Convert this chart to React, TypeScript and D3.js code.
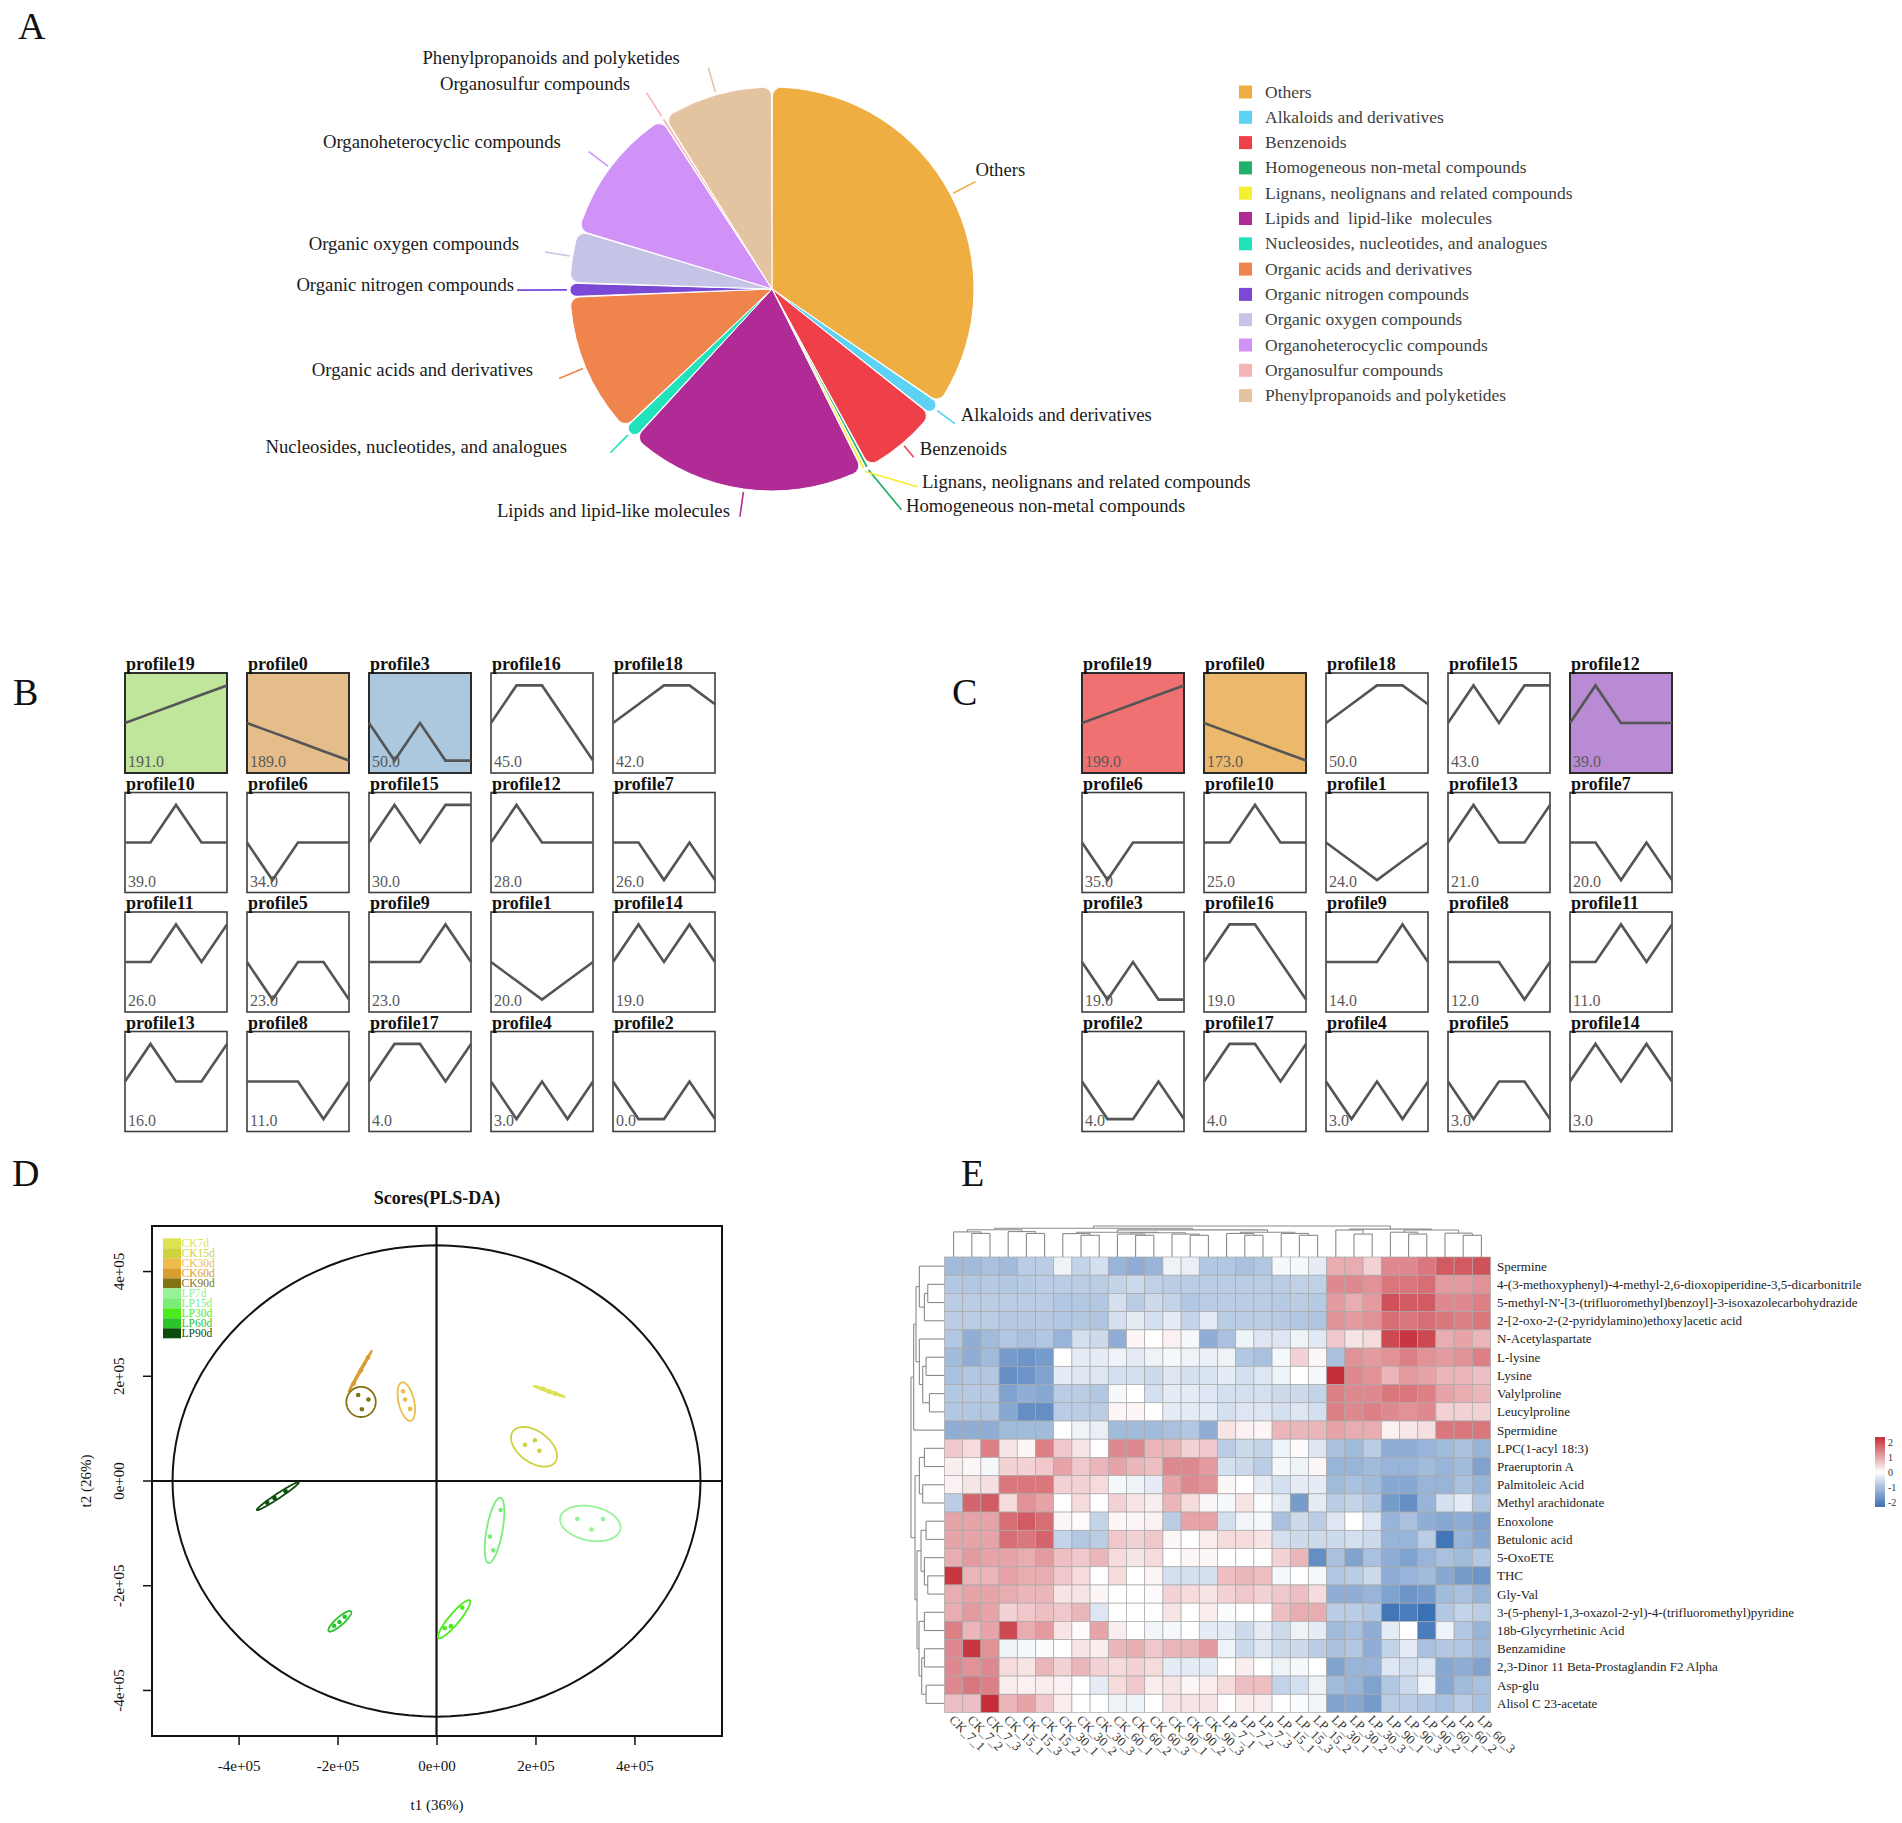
import { useEffect, useRef } from "react";
import * as d3 from "d3";

const W = 1902;
const H = 1823;
const SERIF = "'Liberation Serif', 'Times New Roman', Times, serif";

// ---------- A: compound classes ----------
const classNames = [
  "Others",
  "Alkaloids and derivatives",
  "Benzenoids",
  "Homogeneous non-metal compounds",
  "Lignans, neolignans and related compounds",
  "Lipids and lipid-like molecules",
  "Nucleosides, nucleotides, and analogues",
  "Organic acids and derivatives",
  "Organic nitrogen compounds",
  "Organic oxygen compounds",
  "Organoheterocyclic compounds",
  "Organosulfur compounds",
  "Phenylpropanoids and polyketides",
];
const legendNames = [
  "Others",
  "Alkaloids and derivatives",
  "Benzenoids",
  "Homogeneous non-metal compounds",
  "Lignans, neolignans and related compounds",
  "Lipids and  lipid-like  molecules",
  "Nucleosides, nucleotides, and analogues",
  "Organic acids and derivatives",
  "Organic nitrogen compounds",
  "Organic oxygen compounds",
  "Organoheterocyclic compounds",
  "Organosulfur compounds",
  "Phenylpropanoids and polyketides",
];
const classCounts = [124, 4, 23, 1, 1, 69, 4, 41, 4, 15, 40, 1, 32];
const classColors = [
  "#efae42", "#5dd2f3", "#ef3f49", "#1fb06c", "#f6ee31", "#b02b95", "#22e2bc",
  "#f0844d", "#7b49d6", "#c5c3e6", "#d092f6", "#f5b5b5", "#e4c3a1",
];

// label placement around the pie
const labelR = [230, 227, 220, 256, 246, 230, 230, 231, 255, 230, 229, 233, 230];
const labelTurn = [0, 0, 0, -2.3, -9.3, 0, 0, 0, 0, 0, 0, 0, 0];
const labelDx = [0, 6, 6, 4.5, 4, -10, -43.5, -26, -3, -26, -28, -16.4, -28.6];
const labelDy = [-12, -9, -8, -4, -5, -6, -6, -8.6, -5, -8, -9.6, -8.8, -10];

// ---------- B / C: STEM profiles ----------
const profileShapes: number[][] = [
  [0, -0.25, -0.5, -0.75, -1], // 0
  [0, -0.5, -1, -0.5, 0], // 1
  [0, -1, -1, 0, -1], // 2
  [0, -1, 0, -1, -1], // 3
  [0, -1, 0, -1, 0], // 4
  [0, -1, 0, 0, -1], // 5
  [0, -1, 0, 0, 0], // 6
  [0, 0, -1, 0, -1], // 7
  [0, 0, 0, -1, 0], // 8
  [0, 0, 0, 1, 0], // 9
  [0, 0, 1, 0, 0], // 10
  [0, 0, 1, 0, 1], // 11
  [0, 1, 0, 0, 0], // 12
  [0, 1, 0, 0, 1], // 13
  [0, 1, 0, 1, 0], // 14
  [0, 1, 0, 1, 1], // 15
  [0, 1, 1, 0, -1], // 16
  [0, 1, 1, 0, 1], // 17
  [0, 0.5, 1, 1, 0.5], // 18
  [0, 0.25, 0.5, 0.75, 1], // 19
];
const bProfiles = [19, 0, 3, 16, 18, 10, 6, 15, 12, 7, 11, 5, 9, 1, 14, 13, 8, 17, 4, 2];
const bCounts = [191, 189, 50, 45, 42, 39, 34, 30, 28, 26, 26, 23, 23, 20, 19, 16, 11, 4, 3, 0];
const bFills: Record<number, string> = { 19: "#bfe69b", 0: "#e4bd8b", 3: "#abc8df" };
const cProfiles = [19, 0, 18, 15, 12, 6, 10, 1, 13, 7, 3, 16, 9, 8, 11, 2, 17, 4, 5, 14];
const cCounts = [199, 173, 50, 43, 39, 35, 25, 24, 21, 20, 19, 19, 14, 12, 11, 4, 4, 3, 3, 3];
const cFills: Record<number, string> = { 19: "#f07171", 0: "#ecb96c", 12: "#b98bd4" };

// ---------- D: PLS-DA scores ----------
const plsGroups = ["CK7d", "CK15d", "CK30d", "CK60d", "CK90d", "LP7d", "LP15d", "LP30d", "LP60d", "LP90d"];
const plsColors = [
  "#dbe352", "#cdd23d", "#ecbd4a", "#d89d2e", "#837214",
  "#95f295", "#78ee78", "#4aec1c", "#2ac42a", "#0c4d0c",
];
const t1Scores = [
  [215300, 227700, 240000],
  [179000, 198800, 207900],
  [-67600, -63400, -53500],
  [-167300, -152500, -138500],
  [-158300, -137600, -150800],
  [284600, 336500, 313400],
  [129500, 108100, 114700],
  [52000, 29000, 16600],
  [-206900, -196200, -185500],
  [-342100, -327300, -305000],
];
const t2Scores = [
  [175900, 170400, 166500],
  [69200, 77800, 57600],
  [171200, 155600, 137700],
  [186000, 211700, 235800],
  [164200, 155600, 137000],
  [-72500, -72500, -92700],
  [-55300, -105900, -132400],
  [-242200, -277200, -281100],
  [-276400, -269400, -259300],
  [-41300, -32800, -19500],
];
const ellipseT1 = [227700, 197100, -61000, -154100, -152500, 310900, 117200, 35500, -195400, -320700];
const ellipseT2 = [171200, 65300, 151700, 210100, 151000, -81000, -94300, -264000, -267900, -28900];
const ellipseMajor = [33400, 51800, 37700, 45000, 29700, 61800, 63400, 47900, 29400, 50000];
const ellipseMinor = [2000, 30200, 15600, 1800, 28800, 32700, 16000, 10400, 7800, 4700];
const ellipseAngle = [-18.3, -33, -76, 59, 0, -10, 79, 48.4, 39.5, 31.9];
const hotellingT1 = 533500;
const hotellingT2 = 450000;
const xTicks = [-4e5, -2e5, 0, 2e5, 4e5];
const xTickLabels = ["-4e+05", "-2e+05", "0e+00", "2e+05", "4e+05"];
const yTicks = [-4e5, -2e5, 0, 2e5, 4e5];
const yTickLabels = ["-4e+05", "-2e+05", "0e+00", "2e+05", "4e+05"];

// ---------- E: heatmap ----------
const metabolites = [
  "Spermine",
  "4-(3-methoxyphenyl)-4-methyl-2,6-dioxopiperidine-3,5-dicarbonitrile",
  "5-methyl-N'-[3-(trifluoromethyl)benzoyl]-3-isoxazolecarbohydrazide",
  "2-[2-oxo-2-(2-pyridylamino)ethoxy]acetic acid",
  "N-Acetylaspartate",
  "L-lysine",
  "Lysine",
  "Valylproline",
  "Leucylproline",
  "Spermidine",
  "LPC(1-acyl 18:3)",
  "Praeruptorin A",
  "Palmitoleic Acid",
  "Methyl arachidonate",
  "Enoxolone",
  "Betulonic acid",
  "5-OxoETE",
  "THC",
  "Gly-Val",
  "3-(5-phenyl-1,3-oxazol-2-yl)-4-(trifluoromethyl)pyridine",
  "18b-Glycyrrhetinic Acid",
  "Benzamidine",
  "2,3-Dinor 11 Beta-Prostaglandin F2 Alpha",
  "Asp-glu",
  "Alisol C 23-acetate",
];
const samples = [
  "CK_7_1", "CK_7_2", "CK_7_3", "CK_15_1", "CK_15_3", "CK_15_2", "CK_30_1", "CK_30_2", "CK_30_3",
  "CK_60_1", "CK_60_2", "CK_60_3", "CK_90_1", "CK_90_2", "CK_90_3", "LP_7_1", "LP_7_2", "LP_7_3",
  "LP_15_1", "LP_15_3", "LP_15_2", "LP_30_1", "LP_30_2", "LP_30_3", "LP_90_1", "LP_90_3", "LP_90_2",
  "LP_60_1", "LP_60_2", "LP_60_3",
];
const zScores: number[][] = [
  [-1.1, -1.1, -1.0, -1.1, -0.8, -0.8, -0.2, -0.7, -0.5, -1.2, -1.3, -1.2, -0.2, -0.25, -0.9, -0.9, -1.0, -0.9, -0.1, -0.1, -0.3, 0.9, 0.9, 0.5, 1.3, 1.3, 1.5, 1.8, 1.8, 1.9],
  [-0.9, -0.9, -0.85, -0.9, -0.85, -0.8, -0.8, -0.8, -0.8, -0.7, -0.6, -0.75, -0.8, -0.8, -0.8, -0.8, -0.8, -0.8, -0.8, -0.75, -0.75, 1.3, 1.3, 1.2, 1.5, 1.5, 1.6, 1.1, 1.1, 1.2],
  [-0.8, -0.8, -0.8, -0.8, -0.8, -0.8, -0.9, -0.9, -0.9, -0.5, -0.8, -0.6, -0.7, -0.9, -0.8, -0.8, -0.8, -0.8, -0.85, -0.8, -0.85, 1.1, 0.9, 1.1, 1.9, 1.8, 1.8, 1.3, 1.3, 1.4],
  [-0.8, -0.8, -0.8, -0.85, -0.85, -0.85, -0.9, -0.9, -0.95, -0.5, -0.3, -0.5, -0.3, -0.7, -0.3, -0.8, -0.8, -0.8, -0.85, -0.9, -0.95, 1.2, 1.1, 1.2, 1.6, 1.5, 1.6, 1.5, 1.4, 1.5],
  [-0.9, -1.3, -1.1, -0.9, -1.0, -0.9, -1.2, -0.5, -0.6, -1.3, 0.1, 0.0, 0.15, -0.1, -1.3, -1.0, -0.2, -0.4, -0.4, -0.2, -0.35, 0.6, 0.3, 0.4, 2.0, 2.2, 2.0, 0.9, 1.0, 0.8],
  [-1.1, -1.3, -1.1, -1.6, -1.7, -1.6, 0.0, -0.3, -0.3, -0.2, -0.3, -0.2, -0.1, -0.2, -0.25, -0.2, -0.9, -1.0, -0.1, 0.5, 0.1, -1.0, 1.2, 1.1, 1.2, 1.4, 1.2, 1.1, 1.2, 1.4],
  [-1.0, -0.9, -0.9, -1.8, -1.7, -1.5, -0.3, -0.4, -0.4, -0.5, -0.5, -0.6, -0.4, -0.5, -0.45, -0.3, -0.5, -0.4, -0.2, 0.0, -0.1, 2.4, 1.3, 1.2, 0.8, 1.1, 1.0, 0.8, 0.8, 0.7],
  [-0.9, -0.85, -0.85, -1.5, -1.3, -1.4, -0.8, -0.8, -0.9, -0.1, 0.0, -0.5, -0.3, -0.3, -0.4, -0.5, -0.5, -0.5, -0.6, -0.6, -0.7, 1.4, 1.3, 1.3, 1.5, 1.5, 1.4, 1.0, 0.9, 0.8],
  [-0.9, -0.9, -0.9, -1.4, -1.8, -1.8, -0.8, -0.8, -0.8, 0.1, 0.1, 0.0, -0.3, -0.3, -0.3, -0.5, -0.4, -0.4, -0.5, -0.4, -0.5, 1.4, 1.3, 1.4, 1.3, 1.2, 1.3, 0.5, 0.5, 0.5],
  [-1.3, -1.3, -1.3, -1.1, -1.1, -1.1, 0.0, -0.2, -0.25, -1.1, -1.1, -1.1, -1.0, -0.9, -1.3, 0.3, 0.15, 0.1, 0.8, 0.8, 0.8, 1.0, 0.9, 0.9, 0.15, 0.25, 0.35, 1.5, 1.5, 1.5],
  [0.6, 0.4, 1.4, 0.3, 0.1, 1.4, 0.6, 0.3, 0.0, 1.3, 1.3, 0.8, 0.8, 0.5, 0.6, -0.8, -0.6, -0.7, -0.2, 0.05, -0.4, -1.0, -1.1, -0.8, -1.3, -1.3, -1.2, -1.1, -1.0, -1.2],
  [0.2, 0.1, -0.1, 0.5, 0.5, 0.6, 1.0, 0.6, 0.8, 1.0, 0.8, 0.7, 1.3, 1.3, 1.1, -0.5, -0.6, -0.8, -0.1, -0.2, 0.1, -1.2, -1.2, -1.1, -1.2, -1.2, -1.1, -1.2, -1.1, -1.5],
  [0.15, 0.3, 0.35, 1.5, 1.5, 1.5, 0.5, 0.5, 0.4, -0.1, -0.2, -0.3, 1.0, 1.3, 1.2, 0.1, 0.0, -0.3, -0.5, -0.3, -0.3, -1.1, -1.0, -1.1, -1.4, -1.4, -1.2, -1.2, -1.0, -1.2],
  [-0.8, 1.7, 1.8, 0.4, 1.2, 1.0, 0.0, 0.4, 0.0, 0.5, 0.3, 0.2, 0.8, 0.4, 0.1, -0.1, 0.3, -0.05, -0.3, -1.6, -0.3, -0.8, -0.7, -0.9, -1.6, -1.8, -1.2, -0.5, -0.3, -0.9],
  [1.0, 1.0, 1.0, 1.6, 1.8, 1.6, 0.1, 0.05, -0.7, 0.1, 0.1, 0.15, -0.8, 1.0, 1.0, -0.5, -0.15, -0.1, -1.0, -0.6, -0.8, -0.4, 0.0, -0.4, -1.2, -1.0, -1.3, -1.4, -1.3, -1.5],
  [1.0, 1.0, 1.0, 1.6, 1.5, 1.7, -0.7, -0.9, -0.8, 0.6, 0.5, 0.6, 0.1, 0.0, 0.2, 0.4, 0.4, 0.3, -0.5, -0.6, -0.6, -0.6, -0.5, -0.6, -1.2, -1.2, -0.8, -2.2, -1.2, -1.4],
  [0.9, 1.1, 1.0, 1.0, 0.9, 1.1, 0.7, 0.6, 0.8, 0.4, 0.3, 0.4, 0.0, 0.1, 0.1, 0.0, 0.0, 0.0, 0.5, 0.8, -1.8, -1.0, -1.5, -1.0, -1.3, -1.5, -1.2, -1.0, -1.1, -0.9],
  [2.2, 0.8, 0.8, 1.0, 0.9, 0.9, 0.6, 0.4, 0.0, 0.4, 0.0, 0.1, -0.5, -0.5, -0.5, 0.7, 0.8, 0.7, -0.1, 0.0, -0.1, -0.9, -0.8, -0.6, -1.3, -1.2, -1.1, -1.4, -1.6, -1.7],
  [0.9, 1.0, 1.0, 0.9, 0.8, 0.8, 0.3, 0.3, 0.1, 0.0, 0.0, 0.05, 0.5, 0.4, 0.3, 0.5, 0.6, 0.5, 0.6, 0.7, 0.4, -1.3, -1.3, -1.2, -1.5, -1.7, -1.6, -1.1, -1.0, -1.2],
  [0.9, 1.1, 1.0, 0.5, 0.6, 0.7, 0.6, 0.8, -0.4, 0.0, 0.0, 0.0, 0.3, 0.0, 0.2, -0.05, 0.0, 0.0, 0.7, 0.9, 0.9, -0.8, -0.8, -0.9, -2.2, -2.1, -2.3, -0.9, -0.7, -0.8],
  [1.4, 0.8, 1.0, 2.0, 0.9, 1.1, 0.3, 0.05, 1.0, 0.2, 0.0, -0.15, -0.1, 0.0, -0.3, -0.3, -0.6, -0.3, -0.6, -0.2, -0.3, -1.1, -1.0, -1.3, -0.3, 0.0, -2.1, -0.2, -0.9, -1.2],
  [1.3, 2.2, 1.2, -0.2, -0.1, -0.05, 0.0, 0.3, 0.2, 0.8, 0.9, 0.6, 0.8, 0.8, 1.1, -0.2, -0.6, -0.4, -0.6, -0.6, -0.8, -1.0, -0.9, -1.3, -0.7, -0.3, -1.0, -0.9, -0.9, -1.1],
  [1.3, 1.2, 1.3, 0.4, 0.3, 0.8, 0.5, 0.8, 0.5, 0.4, 0.5, 0.4, -0.3, -0.3, -0.3, 0.0, 0.2, 0.0, -0.2, -0.1, 0.0, -1.5, -1.2, -1.2, -0.4, -0.5, -0.4, -1.4, -1.3, -1.5],
  [1.3, 1.5, 1.4, 0.2, 0.15, 0.2, 0.15, 0.0, -0.3, 0.4, 0.6, 0.2, 0.3, 0.1, 0.2, 0.4, 0.7, 0.7, -0.7, -0.5, -0.2, -1.1, -1.2, -1.5, -0.9, -0.6, -0.2, -1.4, -1.1, -1.0],
  [0.7, 0.7, 2.3, 0.8, 1.0, 0.6, 0.2, 0.0, 0.0, -0.2, -0.2, 0.0, 0.3, 0.3, 0.3, 0.0, 0.2, 0.2, 0.0, -0.05, -0.15, -1.5, -1.4, -1.6, -0.8, -0.8, -0.9, -1.0, -0.8, -1.0],
];
const legendTicks = [2, 1, 0, -1, -2];

// dendrograms: [height, left, right], leaves are indices
type Tree = number | [number, Tree, Tree];
const colTree: Tree = [10,
  [9.26,
    [8.8, [8.1, 0, [7.6, 1, 2]], [8.2, 3, [7.6, 4, 5]]],
    [8.74,
      [8.0, [7.55, 6, [7.0, 7, 8]], [7.8, [7.4, 9, [7.0, 10, 11]], [7.4, 12, [7.0, 13, 14]]]],
      [8.0, [7.6, 15, [7.0, 16, 17]], [7.6, 18, [7.0, 19, 20]]]]],
  [9.0,
    [8.7, 21, [7.4, 22, 23]],
    [8.7, [8.0, 24, [7.4, 25, 26]], [7.7, 27, [7.0, 28, 29]]]]];
const rowTree: Tree = [10,
  [9.2, [8.5, [7.5, 0, [6, [5, 1, 2], 3]], [7.5, 4, [6.5, [5.5, 5, 6], [4.5, 7, 8]]]], 9],
  [8.8,
    [7.5, [6, 10, 11], [6.5, 12, 13]],
    [8.2, [7, [5.5, 14, 15], [6, 16, [5, 17, 18]]], [7.6, [6, 19, 20], [6.8, [6, 21, 22], [5.5, 23, 24]]]]]];

type Sel = d3.Selection<SVGGElement, unknown, null, undefined>;

function label(g: Sel, x: number, y: number, s: string, size: number, opts: { anchor?: string; weight?: string; fill?: string; rotate?: number } = {}) {
  const t = g
    .append("text")
    .attr("x", x)
    .attr("y", y)
    .attr("text-anchor", opts.anchor ?? "start")
    .attr("fill", opts.fill ?? "#111")
    .style("font-family", SERIF)
    .style("font-size", `${size}px`)
    .style("font-weight", opts.weight ?? "normal")
    .style("white-space", "pre")
    .text(s);
  if (opts.rotate) t.attr("transform", `rotate(${opts.rotate},${x},${y})`);
  return t;
}

function drawPie(root: Sel) {
  const cx = 772, cy = 289, r = 202;
  const arcs = d3.pie<number>().sort(null).value((d) => d)(classCounts);
  const arc = d3.arc<d3.PieArcDatum<number>>().innerRadius(0).outerRadius(r).cornerRadius(9).padAngle(0.004);
  const g = root.append("g").attr("transform", `translate(${cx},${cy})`);
  g.selectAll("path.slice")
    .data(arcs)
    .join("path")
    .attr("class", "slice")
    .attr("d", arc)
    .attr("fill", (_, i) => classColors[i])
    .attr("stroke", "#fff")
    .attr("stroke-width", 1);

  arcs.forEach((a, i) => {
    const mid = (a.startAngle + a.endAngle) / 2;
    const ang = mid + (labelTurn[i] * Math.PI) / 180;
    const x0 = Math.sin(mid) * (r + 3), y0 = -Math.cos(mid) * (r + 3);
    const x1 = Math.sin(ang) * labelR[i], y1 = -Math.cos(ang) * labelR[i];
    g.append("line")
      .attr("x1", x0).attr("y1", y0).attr("x2", x1).attr("y2", y1)
      .attr("stroke", classColors[i]).attr("stroke-width", 1.6);
    label(g, x1 + labelDx[i], y1 + labelDy[i] + 6, classNames[i], 18.7, {
      anchor: x1 >= 0 ? "start" : "end",
      fill: "#1a1a1a",
    });
  });

  const lg = root.append("g").attr("transform", "translate(1239,92)");
  legendNames.forEach((n, i) => {
    lg.append("rect").attr("x", 0).attr("y", i * 25.3 - 6.5).attr("width", 13).attr("height", 13).attr("fill", classColors[i]);
    label(lg, 26, i * 25.3 + 5.5, n, 17.5, { fill: "#404040" });
  });
}

function drawProfiles(root: Sel, ox: number, oy: number, ids: number[], counts: number[], fills: Record<number, string>) {
  const bw = 102, bh = 100, stepX = 122, stepY = 119.5;
  const px = d3.scalePoint<number>().domain([0, 1, 2, 3, 4]).range([0, bw]);
  const py = d3.scaleLinear().domain([-1.33, 1.33]).range([bh, 0]);
  const line = d3.line<number>().x((_, i) => px(i) ?? 0).y((d) => py(d));
  ids.forEach((id, k) => {
    const c = k % 5, rw = Math.floor(k / 5);
    const g = root.append("g").attr("transform", `translate(${ox + c * stepX},${oy + rw * stepY})`);
    const fill = fills[id];
    g.append("rect")
      .attr("width", bw).attr("height", bh)
      .attr("fill", fill ?? "#fff")
      .attr("stroke", fill ? "#2c2c2c" : "#3f3f3f")
      .attr("stroke-width", fill ? 2 : 1.6);
    g.append("path").attr("d", line(profileShapes[id])).attr("fill", "none").attr("stroke", "#555").attr("stroke-width", 2.6);
    label(g, 1, -3, `profile${id}`, 18, { weight: "bold", fill: "#111" });
    label(g, 3, bh - 6, counts[k].toFixed(1), 16, { fill: "#5a5a5a" });
  });
}

function ellipsePath(x: d3.ScaleLinear<number, number>, y: d3.ScaleLinear<number, number>, cx: number, cy: number, a: number, b: number, deg: number) {
  const phi = (deg * Math.PI) / 180;
  const pts = d3.range(0, 361, 3).map((t) => {
    const th = (t * Math.PI) / 180;
    const ex = a * Math.cos(th), ey = b * Math.sin(th);
    return [x(cx + ex * Math.cos(phi) - ey * Math.sin(phi)), y(cy + ex * Math.sin(phi) + ey * Math.cos(phi))] as [number, number];
  });
  return d3.line()(pts) + "Z";
}

function drawPls(root: Sel) {
  const x = d3.scaleLinear().domain([-5.75e5, 5.77e5]).range([152, 722]);
  const y = d3.scaleLinear().domain([-4.87e5, 4.87e5]).range([1736, 1226]);
  const g = root.append("g");
  const [x0, x1] = x.range();
  const [yb, yt] = y.range();

  label(g, (x0 + x1) / 2, 1204, "Scores(PLS-DA)", 18, { anchor: "middle", weight: "bold" });

  g.append("path").attr("d", ellipsePath(x, y, 0, 0, hotellingT1, hotellingT2, 0)).attr("fill", "none").attr("stroke", "#111").attr("stroke-width", 2);
  g.append("line").attr("x1", x0).attr("x2", x1).attr("y1", y(0)).attr("y2", y(0)).attr("stroke", "#111").attr("stroke-width", 2.2);
  g.append("line").attr("x1", x(0)).attr("x2", x(0)).attr("y1", yb).attr("y2", yt).attr("stroke", "#111").attr("stroke-width", 2.2);

  plsGroups.forEach((_, i) => {
    g.append("path")
      .attr("d", ellipsePath(x, y, ellipseT1[i], ellipseT2[i], ellipseMajor[i], ellipseMinor[i], ellipseAngle[i]))
      .attr("fill", "none").attr("stroke", plsColors[i]).attr("stroke-width", 1.8);
    t1Scores[i].forEach((v, j) => {
      g.append("circle").attr("cx", x(v)).attr("cy", y(t2Scores[i][j])).attr("r", 2.3).attr("fill", plsColors[i]);
    });
  });

  g.append("rect").attr("x", x0).attr("y", yt).attr("width", x1 - x0).attr("height", yb - yt).attr("fill", "none").attr("stroke", "#111").attr("stroke-width", 2);

  const gx = g.append("g").attr("transform", `translate(0,${yb})`)
    .call(d3.axisBottom(x).tickValues(xTicks).tickFormat((_, i) => xTickLabels[i]).tickSize(9).tickPadding(15));
  gx.select(".domain").remove();
  gx.selectAll("line").attr("stroke", "#111").attr("stroke-width", 1.5);
  gx.selectAll("text").style("font-size", "15px").style("font-family", SERIF).attr("fill", "#111");

  yTicks.forEach((v, i) => {
    g.append("line").attr("x1", x0).attr("x2", x0 - 9).attr("y1", y(v)).attr("y2", y(v)).attr("stroke", "#111").attr("stroke-width", 1.5);
    label(g, 124, y(v), yTickLabels[i], 15, { anchor: "middle", rotate: -90 });
  });
  label(g, (x0 + x1) / 2, 1810, "t1 (36%)", 15, { anchor: "middle" });
  label(g, 91, y(0), "t2 (26%)", 15, { anchor: "middle", rotate: -90 });

  const lg = g.append("g").attr("transform", "translate(163,1238.3)");
  plsGroups.forEach((n, i) => {
    lg.append("rect").attr("x", 0).attr("y", i * 10).attr("width", 18).attr("height", 10).attr("fill", plsColors[i]);
    label(lg, 18.5, i * 10 + 9, n, 11.5, { fill: plsColors[i] });
  });
}

function dendro(node: Tree, leafPos: (i: number) => number, segs: number[][]): { p: number; h: number } {
  if (typeof node === "number") return { p: leafPos(node), h: 0 };
  const [h, l, r] = node;
  const a = dendro(l, leafPos, segs);
  const b = dendro(r, leafPos, segs);
  segs.push([a.p, a.h, a.p, h], [b.p, b.h, b.p, h], [a.p, h, b.p, h]);
  return { p: (a.p + b.p) / 2, h };
}

function drawHeatmap(root: Sel) {
  const top = 1257, bottom = 1712.5;
  const hx = d3.scaleBand().domain(samples).range([944.5, 1490.5]);
  const hy = d3.scaleBand().domain(metabolites).range([top, bottom]);
  const color = d3.scaleLinear<string>().domain([-2.3, 0, 2.3]).range(["#3a70b4", "#ffffff", "#c52e38"]).clamp(true);
  const g = root.append("g");

  zScores.forEach((row, ri) => {
    row.forEach((v, ci) => {
      g.append("rect")
        .attr("x", hx(samples[ci]) ?? 0).attr("y", hy(metabolites[ri]) ?? 0)
        .attr("width", hx.bandwidth()).attr("height", hy.bandwidth())
        .attr("fill", color(v)).attr("stroke", "#a9a9a9").attr("stroke-width", 0.7);
    });
  });

  metabolites.forEach((m) => {
    label(g, 1497, (hy(m) ?? 0) + hy.bandwidth() / 2 + 4.5, m, 13, { fill: "#222" });
  });
  samples.forEach((s) => {
    const cx = (hx(s) ?? 0) + hx.bandwidth() / 2;
    label(g, cx - 5, bottom + 8, s, 13, { fill: "#333", rotate: 45 });
  });

  // column dendrogram
  const colSegs: number[][] = [];
  dendro(colTree, (i) => (hx(samples[i]) ?? 0) + hx.bandwidth() / 2, colSegs);
  const ch = d3.scaleLinear().domain([0, 10]).range([top, 1226]);
  g.selectAll("line.cd").data(colSegs).join("line").attr("class", "cd")
    .attr("x1", (d) => d[0]).attr("y1", (d) => ch(d[1])).attr("x2", (d) => d[2]).attr("y2", (d) => ch(d[3]))
    .attr("stroke", "#8a8a8a").attr("stroke-width", 1.1);

  // row dendrogram
  const rowSegs: number[][] = [];
  dendro(rowTree, (i) => (hy(metabolites[i]) ?? 0) + hy.bandwidth() / 2, rowSegs);
  const rh = d3.scaleLinear().domain([0, 10]).range([944.5, 911]);
  g.selectAll("line.rd").data(rowSegs).join("line").attr("class", "rd")
    .attr("x1", (d) => rh(d[1])).attr("y1", (d) => d[0]).attr("x2", (d) => rh(d[3])).attr("y2", (d) => d[2])
    .attr("stroke", "#8a8a8a").attr("stroke-width", 1.1);

  // colour key
  const cb = d3.scaleLinear().domain([-2, 2]).range([1502, 1442]);
  const defs = root.append("defs");
  const grad = defs.append("linearGradient").attr("id", "hmKey").attr("x1", 0).attr("y1", 1).attr("x2", 0).attr("y2", 0);
  [-2.33, -1.2, 0, 1.2, 2.33].forEach((v) => {
    grad.append("stop").attr("offset", `${((v + 2.33) / 4.66) * 100}%`).attr("stop-color", color(v));
  });
  g.append("rect").attr("x", 1875).attr("y", cb(2.33)).attr("width", 10).attr("height", cb(-2.33) - cb(2.33)).attr("fill", "url(#hmKey)");
  legendTicks.forEach((t) => label(g, 1888, cb(t) + 3.5, String(t), 10, { fill: "#333" }));
}

export default function App() {
  const svgRef = useRef<SVGSVGElement>(null);

  useEffect(() => {
    if (!svgRef.current) return;
    const svg = d3.select(svgRef.current);
    svg.selectAll("*").remove();
    svg.append("rect").attr("width", W).attr("height", H).attr("fill", "#fff");
    const root = svg.append("g") as unknown as Sel;

    label(root, 18, 39, "A", 38);
    label(root, 13, 705, "B", 38);
    label(root, 952, 705, "C", 38);
    label(root, 12, 1186, "D", 38);
    label(root, 961, 1186, "E", 38);

    drawPie(root);
    drawProfiles(root, 125, 673, bProfiles, bCounts, bFills);
    drawProfiles(root, 1082, 673, cProfiles, cCounts, cFills);
    drawPls(root);
    drawHeatmap(root);
  }, []);

  return (
    <svg
      ref={svgRef}
      width={W}
      height={H}
      style={{ position: "absolute", left: 0, top: 0, background: "#fff", fontFamily: SERIF }}
    />
  );
}
